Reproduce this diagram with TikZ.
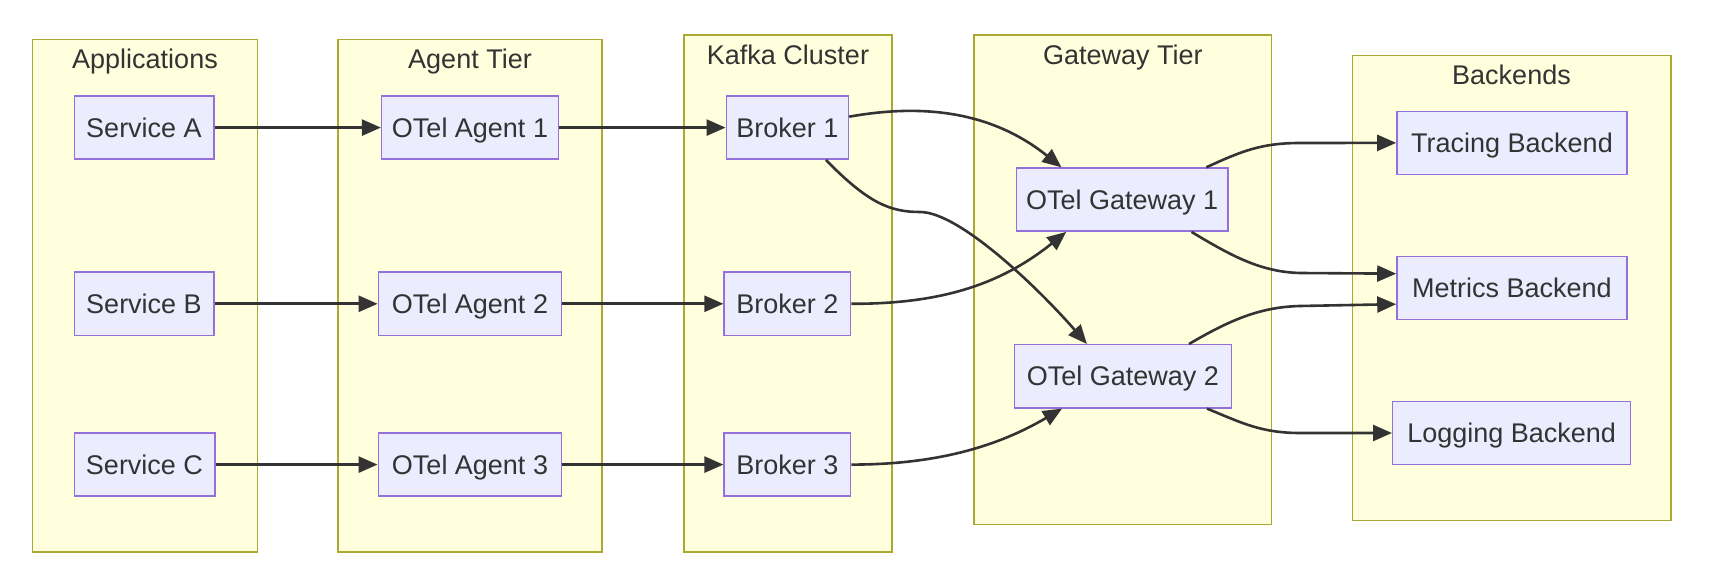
\documentclass[tikz,border=0pt]{standalone}
\usepackage{fontspec}
\setmainfont{Liberation Sans}
\usepackage{tikz}
\usetikzlibrary{arrows.meta, positioning}
\definecolor{grp-fill}{HTML}{FFFFDE}
\definecolor{grp-line}{HTML}{AAAA33}
\definecolor{box-fill}{HTML}{ECECFF}
\definecolor{box-line}{HTML}{9370DB}
\definecolor{ink}{HTML}{333333}

\begin{document}
\begin{tikzpicture}[x=0.5pt, y=-0.5pt,
        grp/.style={rectangle, draw=grp-line, fill=grp-fill, line width=0.7pt,
                    inner sep=0pt},
        ttl/.style={font=\fontsize{13.5}{16}\selectfont, text=ink,
                    text height=9.7pt, text depth=0pt, inner sep=0pt},
        box/.style={rectangle, draw=box-line, fill=box-fill, line width=0.7pt,
                    minimum height=31.6pt, inner sep=0pt, text=ink,
                    font=\fontsize{13.5}{16}\selectfont,
                    text height=9.7pt, text depth=0pt},
        arr/.style={-{Triangle[length=9.5pt, width=8pt]}, line width=1.3pt, ink}]
        \useasboundingbox (0,0) rectangle (1710,588);
        % groups
        \node[grp, minimum width=112.3pt, minimum height=256.3pt] (apps) at (145, 295.6) {};
        \node[grp, minimum width=131.9pt, minimum height=256.3pt] (agents) at (470, 295.6) {};
        \node[grp, minimum width=104.1pt, minimum height=258.5pt] (kafka) at (788, 293.4) {};
        \node[grp, minimum width=148.9pt, minimum height=244.8pt] (gway) at (1122.8, 279.8) {};
        \node[grp, minimum width=159.3pt, minimum height=232.3pt] (bends) at (1511.5, 287.9) {};
        \node[ttl] (appsT) at (145, 58.9) {Applications};
        \node[ttl] (agentsT) at (470, 58.9) {Agent Tier};
        \node[ttl] (kafkaT) at (788, 54.5) {Kafka Cluster};
        \node[ttl] (gwayT) at (1122.8, 54.5) {Gateway Tier};
        \node[ttl] (bendsT) at (1511.5, 75.3) {Backends};
        % components
        \node[box, minimum width=69.8pt] (sa) at (144, 127.6) {Service A};
        \node[box, minimum width=69.8pt] (sb) at (144, 303.8) {Service B};
        \node[box, minimum width=70.3pt] (sc) at (144.5, 464.6) {Service C};
        \node[box, minimum width=88.4pt] (a1) at (470, 127.6) {OTel Agent 1};
        \node[box, minimum width=91.7pt] (a2) at (470, 303.8) {OTel Agent 2};
        \node[box, minimum width=91.7pt] (a3) at (470, 464.6) {OTel Agent 3};
        \node[box, minimum width=61.1pt] (b1) at (787.4, 127.6) {Broker 1};
        \node[box, minimum width=63.3pt] (b2) at (787.4, 303.8) {Broker 2};
        \node[box, minimum width=63.3pt] (b3) at (787.4, 464.6) {Broker 3};
        \node[box, minimum width=105.8pt] (g1) at (1122.2, 199.6) {OTel Gateway 1};
        \node[box, minimum width=108.6pt] (g2) at (1122.8, 376.3) {OTel Gateway 2};
        \node[box, minimum width=115.1pt] (tr) at (1512, 142.9) {Tracing Backend};
        \node[box, minimum width=115.1pt] (me) at (1512, 287.9) {Metrics Backend};
        \node[box, minimum width=118.9pt] (lg) at (1511.6, 433) {Logging Backend};
        % flows
        \draw[arr] (sa.east) -- (a1.west);
        \draw[arr] (sb.east) -- (a2.west);
        \draw[arr] (sc.east) -- (a3.west);
        \draw[arr] (a1.east) -- (b1.west);
        \draw[arr] (a2.east) -- (b2.west);
        \draw[arr] (a3.east) -- (b3.west);
        \draw[arr] (b1.10) .. controls (920,104) and (990,110) .. (g1.152);
        \draw[arr] (b1.-40) .. controls (868,203) and (890,212) .. (920,212)
                   .. controls (960,212) and (1040,290) .. (g2.138);
        \draw[arr] (b2.east) .. controls (940,304) and (1000,285) .. (g1.-150);
        \draw[arr] (b3.east) .. controls (940,464.6) and (1000,445) .. (g2.-152);
        \draw[arr] (g1.21) .. controls (1240,152) and (1260,143) .. (1300,143) -- (tr.west);
        \draw[arr] (g1.-25) .. controls (1230,255) and (1260,272) .. (1300,273) -- (me.173);
        \draw[arr] (g2.26) .. controls (1230,320) and (1260,307) .. (1300,306) -- (me.-172);
        \draw[arr] (g2.-21) .. controls (1240,422) and (1260,433) .. (1300,433) -- (lg.west);
      \end{tikzpicture}
\end{document}
